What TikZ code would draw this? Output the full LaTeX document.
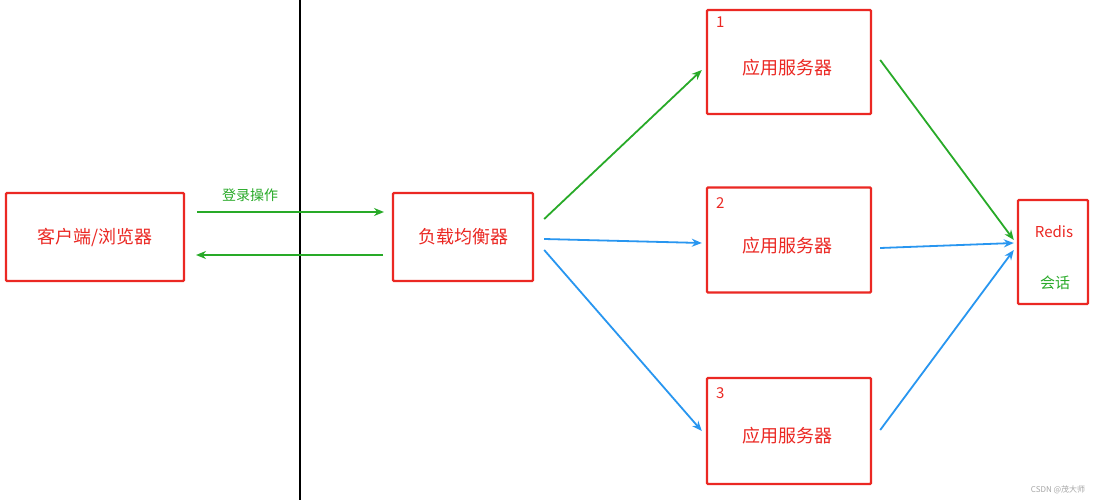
\documentclass[tikz,border=0pt]{standalone}
\usepackage{fontspec}
\setmainfont{Noto Sans CJK SC}
\usetikzlibrary{arrows.meta}
\definecolor{rbox}{RGB}{235,40,35}
\definecolor{gline}{RGB}{40,170,40}
\definecolor{bline}{RGB}{40,150,240}
\tikzset{
 box/.style={draw=rbox,line width=2.4pt,fill=white,text=rbox,font=\fontsize{18}{20}\selectfont,rounded corners=1pt},
 stxt/.style={text=rbox,font=\fontsize{18}{20}\selectfont},
 num/.style={text=rbox,font=\fontsize{15}{17}\selectfont,anchor=north west,inner sep=0pt},
 ga/.style={draw=gline,line width=1.8pt,-{Stealth[length=10pt,width=8pt]}},
 ba/.style={draw=bline,line width=1.8pt,-{Stealth[length=10pt,width=8pt]}},
}
\begin{document}
\begin{tikzpicture}[x=1pt,y=-1pt]
\useasboundingbox[fill=white] (0,0) rectangle (1094,500);
\draw[line width=1.8pt] (300,0) -- (300,500);
\node[box,minimum width=178,minimum height=88] (c) at (95,237) {客户端/浏览器};
\node[box,minimum width=140,minimum height=88] (lb) at (463,237) {负载均衡器};
\node[box,minimum width=164,minimum height=104] (s1) at (789,62) {};
\node[box,minimum width=164,minimum height=105] (s2) at (789,240) {};
\node[box,minimum width=164,minimum height=106] (s3) at (789,431) {};
\node[stxt] (t1) at (787,68) {应用服务器};
\node[stxt] (t2) at (787,246) {应用服务器};
\node[stxt] (t3) at (787,436) {应用服务器};
\node[box,minimum width=70,minimum height=104] (r) at (1053,252) {};
\node[text=rbox,font=\fontsize{15}{17}\selectfont] (rt) at (1054,232) {Redis};
\node[text=gline,font=\fontsize{15}{17}\selectfont] (rh) at (1055,283) {会话};
\node[num] (n1) at (716,17) {1};
\node[num] (n2) at (716,197) {2};
\node[num] (n3) at (716,387) {3};
\coordinate (a1) at (197,212); \coordinate (a2) at (384,212);
\coordinate (b1) at (383,255); \coordinate (b2) at (196,255);
\draw[ga] (a1) -- (a2);
\draw[ga] (b1) -- (b2);
\node[text=gline,font=\fontsize{14}{16}\selectfont] (lab) at (250,195) {登录操作};
\draw[ga] ([xshift=10pt,yshift=18pt]lb.east) -- ([xshift=-4pt,yshift=-8pt]s1.west);
\draw[ba] ([xshift=10pt,yshift=-2pt]lb.east) -- ([xshift=-4pt,yshift=-3pt]s2.west);
\draw[ba] ([xshift=10pt,yshift=-13pt]lb.east) -- ([xshift=-4pt,yshift=0pt]s3.west);
\draw[ga] ([xshift=8pt,yshift=2pt]s1.east) -- ([xshift=-3pt,yshift=12pt]r.west);
\draw[ba] ([xshift=8pt,yshift=-8pt]s2.east) -- ([xshift=-3pt,yshift=9pt]r.west);
\draw[ba] ([xshift=8pt,yshift=1pt]s3.east) -- ([xshift=-3pt,yshift=2pt]r.west);
\node[text=gray!70,font=\fontsize{8}{9}\selectfont] (wm) at (1058,490) {CSDN @茂大师};
\end{tikzpicture}
\end{document}
